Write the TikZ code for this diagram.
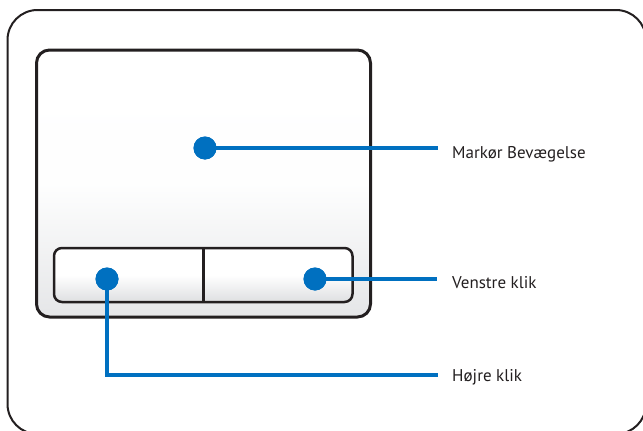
\documentclass[tikz,border=0pt]{standalone}
\usepackage{fontspec}
\setmainfont{PT Sans}
\definecolor{frame}{RGB}{35,31,32}
\definecolor{dotblue}{RGB}{0,112,192}
\definecolor{padgray}{RGB}{229,230,232}
\definecolor{btngray}{RGB}{222,223,225}
\tikzset{
  frameline/.style={draw=frame, line width=2pt, rounded corners=30pt},
  padbox/.style={draw=frame, line width=3pt, rounded corners=13pt, top color=white, bottom color=padgray, middle color=white!96!padgray},
  btnbox/.style={draw=frame, line width=2.5pt, rounded corners=8pt, top color=white, bottom color=btngray, middle color=white},
  dot/.style={circle, fill=dotblue, inner sep=0pt, minimum size=23pt},
  lead/.style={draw=dotblue, line width=4pt},
  lbl/.style={anchor=base west, inner sep=0pt, font=\fontsize{17}{20}\selectfont, text=frame}
}
\begin{document}
\begin{tikzpicture}[x=1pt,y=-1pt]
\useasboundingbox (0,0) rectangle (643,431);
\begin{scope}
\clip (0,0) rectangle (643,431);
\draw[frameline] (7.5,10) rectangle (646,434);
\end{scope}
\path[padbox] (36.5,50) rectangle (370.5,317);
\path[btnbox] (54,248) rectangle (352.5,302);
\draw[frame, line width=2.5pt] (203.5,248) -- (203.5,302);
\node[dot] (d1) at (205,148) {};
\node[dot] (d2) at (107,279) {};
\node[dot] (d3) at (315,279) {};
\coordinate (e1) at (438,148);
\coordinate (e3) at (437,279);
\coordinate (c2) at (107,375);
\coordinate (e2) at (438,375);
\draw[lead] (d1.center) -- (e1);
\draw[lead] (d3.center) -- (e3);
\draw[lead] (d2.center) -- (c2) -- (e2);
\node[dot] at (d1) {};
\node[dot] at (d2) {};
\node[dot] at (d3) {};
\node[lbl] (t1) at (452,158) {Markør Bevægelse};
\node[lbl] (t3) at (452,288) {Venstre klik};
\node[lbl] (t2) at (452,381) {Højre klik};
\end{tikzpicture}
\end{document}
